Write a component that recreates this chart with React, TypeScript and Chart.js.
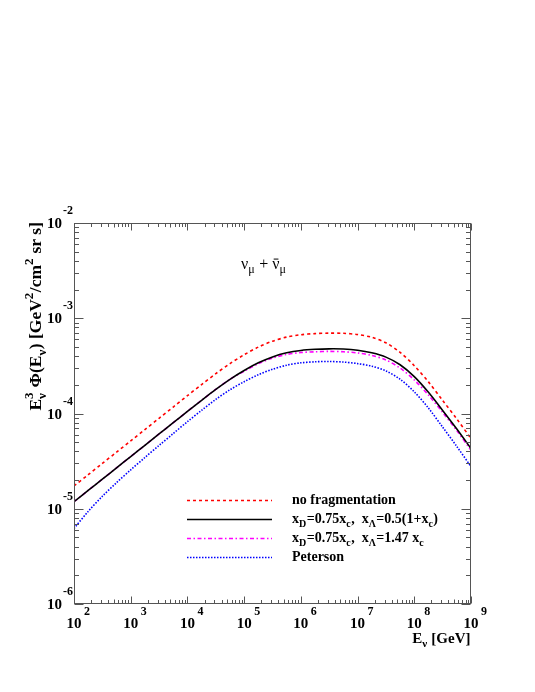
import React, { useEffect, useRef } from "react";
import { Chart, registerables } from "chart.js";

Chart.register(...registerables);

// Neutrino energies [GeV]
const energies = [
  1e2, 1.778e2, 3.162e2, 5.623e2, 1e3, 1.778e3, 3.162e3, 5.623e3, 1e4, 1.778e4,
  3.162e4, 5.623e4, 1e5, 1.778e5, 3.162e5, 5.623e5, 1e6, 1.778e6, 3.162e6, 5.623e6,
  1e7, 1.778e7, 3.162e7, 5.623e7, 1e8, 1.778e8, 3.162e8, 5.623e8, 1e9,
];

// E^3 Phi(E) [GeV^2 / cm^2 sr s]
const noFragmentation = [
  1.734e-5, 2.275e-5, 2.992e-5, 3.926e-5, 5.164e-5, 6.777e-5, 8.913e-5, 1.17e-4, 1.538e-4, 2.014e-4,
  2.618e-4, 3.342e-4, 4.14e-4, 4.977e-4, 5.741e-4, 6.339e-4, 6.714e-4, 6.903e-4, 6.982e-4, 6.95e-4,
  6.745e-4, 6.31e-4, 5.521e-4, 4.385e-4, 3.177e-4, 2.148e-4, 1.371e-4, 8.75e-5, 5.458e-5,
];
const fragLambdaA = [
  1.186e-5, 1.556e-5, 2.047e-5, 2.685e-5, 3.532e-5, 4.634e-5, 6.095e-5, 7.998e-5, 1.052e-4, 1.377e-4,
  1.791e-4, 2.286e-4, 2.831e-4, 3.404e-4, 3.926e-4, 4.335e-4, 4.592e-4, 4.721e-4, 4.775e-4, 4.753e-4,
  4.613e-4, 4.335e-4, 3.908e-4, 3.251e-4, 2.438e-4, 1.667e-4, 1.076e-4, 6.871e-5, 4.286e-5,
];
const fragLambdaB = [
  1.186e-5, 1.556e-5, 2.047e-5, 2.685e-5, 3.532e-5, 4.634e-5, 6.095e-5, 7.998e-5, 1.052e-4, 1.377e-4,
  1.791e-4, 2.286e-4, 2.78e-4, 3.327e-4, 3.819e-4, 4.169e-4, 4.365e-4, 4.446e-4, 4.487e-4, 4.446e-4,
  4.325e-4, 4.074e-4, 3.648e-4, 2.999e-4, 2.249e-4, 1.563e-4, 1.028e-4, 6.607e-5, 4.121e-5,
];
const peterson = [
  6.209e-6, 9.376e-6, 1.352e-5, 1.879e-5, 2.559e-5, 3.451e-5, 4.624e-5, 6.166e-5, 8.204e-5, 1.081e-4,
  1.406e-4, 1.774e-4, 2.158e-4, 2.553e-4, 2.911e-4, 3.214e-4, 3.404e-4, 3.491e-4, 3.516e-4, 3.467e-4,
  3.342e-4, 3.141e-4, 2.799e-4, 2.291e-4, 1.687e-4, 1.14e-4, 7.194e-5, 4.508e-5, 2.767e-5,
];

// Axis decades (tick label exponents)
const xExponents = [2, 3, 4, 5, 6, 7, 8, 9];
const yExponents = [-6, -5, -4, -3, -2];

type Seg = { t: string; k?: "sub" | "sup" | "subsup"; t2?: string; bar?: boolean };

const legendItems: { segs: Seg[]; color: string; dash: number[]; width: number }[] = [
  { segs: [{ t: "no fragmentation" }], color: "#ff0000", dash: [3, 3], width: 1.6 },
  {
    segs: [
      { t: "x" }, { t: "D", k: "sub" }, { t: "=0.75x" }, { t: "c", k: "sub" },
      { t: ",  x" }, { t: "Λ", k: "sub" }, { t: "=0.5(1+x" }, { t: "c", k: "sub" }, { t: ")" },
    ],
    color: "#000000", dash: [], width: 1.6,
  },
  {
    segs: [
      { t: "x" }, { t: "D", k: "sub" }, { t: "=0.75x" }, { t: "c", k: "sub" },
      { t: ",  x" }, { t: "Λ", k: "sub" }, { t: "=1.47 x" }, { t: "c", k: "sub" },
    ],
    color: "#ff00ff", dash: [4, 2.5, 1.5, 2.5], width: 1.6,
  },
  { segs: [{ t: "Peterson" }], color: "#0000ff", dash: [1.5, 1.5], width: 1.6 },
];

const seriesValues = [noFragmentation, fragLambdaA, fragLambdaB, peterson];

const FONT = '"Liberation Serif", "Times New Roman", serif';

function drawRich(
  ctx: CanvasRenderingContext2D,
  segs: Seg[],
  x: number,
  y: number,
  size: number,
  weight: string,
  draw: boolean
): number {
  let cx = x;
  const small = Math.round(size * 0.72);
  for (const s of segs) {
    if (!s.k) {
      ctx.font = `${weight} ${size}px ${FONT}`;
      const w = ctx.measureText(s.t).width;
      if (draw) {
        ctx.fillText(s.t, cx, y);
        if (s.bar) {
          ctx.save();
          ctx.lineWidth = 1;
          ctx.beginPath();
          ctx.moveTo(cx + 1.5, y - size * 0.62);
          ctx.lineTo(cx + w - 1, y - size * 0.62);
          ctx.stroke();
          ctx.restore();
        }
      }
      cx += w;
    } else {
      ctx.font = `${weight} ${small}px ${FONT}`;
      const w1 = ctx.measureText(s.t).width;
      let w2 = 0;
      if (s.k === "sub") {
        if (draw) ctx.fillText(s.t, cx, y + size * 0.28);
      } else if (s.k === "sup") {
        if (draw) ctx.fillText(s.t, cx, y - size * 0.45);
      } else {
        w2 = ctx.measureText(s.t2 || "").width;
        if (draw) {
          ctx.fillText(s.t, cx, y + size * 0.28);
          ctx.fillText(s.t2 || "", cx, y - size * 0.45);
        }
      }
      cx += Math.max(w1, w2) + 0.5;
    }
  }
  return cx - x;
}

const decorPlugin = {
  id: "decor",
  beforeDraw(chart: any) {
    const ctx = chart.ctx as CanvasRenderingContext2D;
    ctx.save();
    ctx.fillStyle = "#ffffff";
    ctx.fillRect(0, 0, chart.width, chart.height);
    ctx.restore();
  },
  afterDraw(chart: any) {
    const ctx = chart.ctx as CanvasRenderingContext2D;
    const xs = chart.scales.x;
    const ys = chart.scales.y;
    const { left, right, top, bottom } = chart.chartArea;
    const L = Math.round(left) + 0.5;
    const R = Math.round(right) - 0.5;
    const T = Math.round(top) + 0.5;
    const B = Math.round(bottom) - 0.5;

    ctx.save();
    ctx.strokeStyle = "#555555";
    ctx.lineWidth = 1;
    ctx.setLineDash([]);
    ctx.strokeRect(L, T, R - L, B - T);

    const xTick = (v: number, len: number) => {
      const px = Math.round(xs.getPixelForValue(v)) + 0.5;
      ctx.beginPath();
      ctx.moveTo(px, B);
      ctx.lineTo(px, B - len);
      ctx.moveTo(px, T);
      ctx.lineTo(px, T + len);
      ctx.stroke();
    };
    xExponents.forEach((e, i) => {
      xTick(Math.pow(10, e), 7);
      if (i < xExponents.length - 1) {
        for (let k = 2; k <= 9; k++) xTick(k * Math.pow(10, e), k === 5 ? 4 : 3.5);
      }
    });
    const yTick = (v: number, len: number) => {
      const py = Math.round(ys.getPixelForValue(v)) + 0.5;
      ctx.beginPath();
      ctx.moveTo(L, py);
      ctx.lineTo(L + len, py);
      ctx.moveTo(R, py);
      ctx.lineTo(R - len, py);
      ctx.stroke();
    };
    yExponents.forEach((e, i) => {
      yTick(Math.pow(10, e), 9);
      if (i < yExponents.length - 1) {
        for (let k = 2; k <= 9; k++) yTick(k * Math.pow(10, e), 4.5);
      }
    });

    ctx.fillStyle = "#000000";
    ctx.textBaseline = "alphabetic";
    ctx.textAlign = "left";

    xExponents.forEach((e) => {
      const px = xs.getPixelForValue(Math.pow(10, e));
      ctx.font = `bold 15px ${FONT}`;
      const w = ctx.measureText("10").width;
      ctx.fillText("10", px - w / 2, 628);
      ctx.font = `bold 12px ${FONT}`;
      ctx.fillText(String(e), px + 10, 615);
    });
    yExponents.forEach((e) => {
      const py = ys.getPixelForValue(Math.pow(10, e));
      ctx.font = `bold 15px ${FONT}`;
      const w = ctx.measureText("10").width;
      ctx.fillText("10", 62 - w, py + 5);
      ctx.font = `bold 12px ${FONT}`;
      ctx.fillText(String(e), 63, py - 9);
    });

    const xTitle: Seg[] = [{ t: "E" }, { t: "ν", k: "sub" }, { t: " [GeV]" }];
    const xtw = drawRich(ctx, xTitle, 0, 0, 15, "bold", false);
    drawRich(ctx, xTitle, R - xtw, 643, 15, "bold", true);

    const yTitle: Seg[] = [
      { t: "E" }, { t: "ν", k: "subsup", t2: "3" }, { t: " Φ(E" }, { t: "ν", k: "sub" },
      { t: ") [GeV" }, { t: "2", k: "sup" }, { t: "/cm" }, { t: "2", k: "sup" }, { t: " sr s]" },
    ];
    const ytw = drawRich(ctx, yTitle, 0, 0, 17.5, "bold", false);
    ctx.save();
    ctx.translate(41, 222 + ytw);
    ctx.rotate(-Math.PI / 2);
    drawRich(ctx, yTitle, 0, 0, 17.5, "bold", true);
    ctx.restore();

    ctx.strokeStyle = "#000000";
    drawRich(
      ctx,
      [{ t: "ν" }, { t: "μ", k: "sub" }, { t: " + " }, { t: "ν", bar: true }, { t: "μ", k: "sub" }],
      241, 269, 16, "normal", true
    );

    const rowY = [500, 519, 538, 557];
    legendItems.forEach((it, i) => {
      ctx.save();
      ctx.strokeStyle = it.color;
      ctx.lineWidth = it.width;
      ctx.setLineDash(it.dash);
      ctx.beginPath();
      ctx.moveTo(187, rowY[i] + 0.5);
      ctx.lineTo(272, rowY[i] + 0.5);
      ctx.stroke();
      ctx.restore();
      ctx.fillStyle = "#000000";
      drawRich(ctx, it.segs, 292, rowY[i] + 4, 14, "bold", true);
    });
    ctx.restore();
  },
};

export default function App() {
  const ref = useRef<HTMLCanvasElement | null>(null);
  useEffect(() => {
    if (!ref.current) return;
    const datasets = legendItems.map((it, i) => ({
      label: `series${i}`,
      data: energies.map((e, j) => ({ x: e, y: seriesValues[i][j] })),
      borderColor: it.color,
      borderWidth: it.width,
      borderDash: it.dash,
      pointRadius: 0,
      fill: false,
      tension: 0.3,
    }));
    const chart = new Chart(ref.current, {
      type: "line",
      data: { datasets },
      options: {
        animation: false,
        responsive: false,
        devicePixelRatio: 1,
        layout: { padding: { left: 74, right: 64, top: 223, bottom: 88 } },
        plugins: { legend: { display: false }, tooltip: { enabled: false } },
        scales: {
          x: { type: "logarithmic", min: 100, max: 1e9, display: false },
          y: { type: "logarithmic", min: 1e-6, max: 1e-2, display: false },
        },
      },
      plugins: [decorPlugin],
    } as any);
    return () => chart.destroy();
  }, []);
  return (
    <div style={{ position: "fixed", left: 0, top: 0, width: 535, height: 692 }}>
      <canvas ref={ref} width={535} height={692} style={{ display: "block" }} />
    </div>
  );
}
